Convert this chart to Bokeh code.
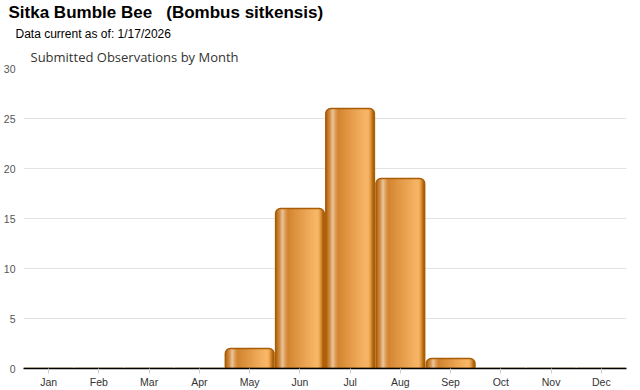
import math
from bokeh.plotting import figure
from bokeh.models import ColumnDataSource, Title, Range1d, FactorRange, SingleIntervalTicker
from bokeh.transform import dodge
from bokeh.embed import file_html
from bokeh.resources import INLINE

# ---- data ----
months = ["Jan", "Feb", "Mar", "Apr", "May", "Jun", "Jul", "Aug", "Sep", "Oct", "Nov", "Dec"]
counts = [0, 0, 0, 0, 2, 16, 26, 19, 1, 0, 0, 0]
title_text = "Sitka Bumble Bee\u00a0\u00a0\u00a0(Bombus sitkensis)"
subtitle_text = "Data current as of: 1/17/2026"
chart_title = "Submitted Observations by Month"
y_max = 30

# ---- figure ----
W, H = 630, 390
p = figure(x_range=FactorRange(*months), y_range=Range1d(0, y_max),
           width=W, height=H, output_backend="svg", toolbar_location=None,
           min_border_left=14, min_border_right=4, min_border_top=0, min_border_bottom=0)
p.outline_line_color = None
p.background_fill_color = "white"
p.border_fill_color = "white"

# gradient for bar fill (horizontal, left -> right)
stops = [(0.00, (166, 90, 6)), (0.04, (192, 112, 26)), (0.10, (212, 149, 85)),
         (0.15, (236, 201, 160)), (0.20, (224, 160, 96)), (0.26, (211, 133, 47)),
         (0.50, (227, 154, 72)), (0.80, (246, 180, 100)), (0.88, (248, 184, 104)),
         (0.93, (224, 150, 64)), (0.97, (185, 106, 14)), (1.00, (166, 90, 6))]

def grad(t):
    for (t0, c0), (t1, c1) in zip(stops[:-1], stops[1:]):
        if t0 <= t <= t1:
            f = (t - t0) / (t1 - t0) if t1 > t0 else 0
            return "#%02x%02x%02x" % tuple(int(round(a + (b - a) * f)) for a, b in zip(c0, c1))
    return "#a65a06"

bar_w = 0.97
radius_px = 5
src = ColumnDataSource(dict(month=months, count=counts))

# base rounded bar
p.vbar(x="month", top="count", width=bar_w, source=src, fill_color="#b8690f",
       line_color=None, border_radius=(radius_px, radius_px, 0, 0))

# gradient strips
band_px = 614 / len(months)
bar_px = bar_w * band_px
px_per_unit = 299 / y_max
N = 48
sw = bar_w / N
for i in range(N):
    t = (i + 0.5) / N
    off = -bar_w / 2 + t * bar_w
    d = min(t, 1 - t) * bar_px
    drop = 0.0
    if d < radius_px:
        drop = radius_px - math.sqrt(max(0.0, radius_px ** 2 - (radius_px - d) ** 2))
    tops = [max(0.0, c - (drop + 0.6) / px_per_unit) if c > 0 else 0 for c in counts]
    s = ColumnDataSource(dict(month=months, top=tops))
    p.vbar(x=dodge("month", off, range=p.x_range), top="top", width=sw * 1.6, source=s,
           fill_color=grad(t), line_color=None)

# outline
p.vbar(x="month", top="count", width=bar_w, source=src, fill_alpha=0,
       line_color="#a85c06", line_width=1.3, border_radius=(radius_px, radius_px, 0, 0))

# axes
p.xaxis.axis_line_color = "black"
p.xaxis.axis_line_width = 1.5
p.xaxis.major_tick_line_color = "#cccccc"
p.xaxis.major_tick_out = 5
p.xaxis.major_tick_in = 0
p.xaxis.major_label_standoff = 2
p.xaxis.major_label_text_font = "Liberation Sans"
p.xaxis.major_label_text_font_size = "10.5px"
p.xaxis.major_label_text_color = "#333333"

p.yaxis.axis_line_color = None
p.yaxis.major_tick_line_color = None
p.yaxis.minor_tick_line_color = None
p.yaxis.major_tick_out = 0
p.yaxis.major_tick_in = 0
p.yaxis.major_label_standoff = 4
p.yaxis.ticker = SingleIntervalTicker(interval=5)
p.yaxis.major_label_text_font = "Liberation Sans"
p.yaxis.major_label_text_font_size = "10.5px"
p.yaxis.major_label_text_color = "#555555"

p.xgrid.grid_line_color = None
p.ygrid.grid_line_color = "#e3e3e3"
p.ygrid.ticker = SingleIntervalTicker(interval=5)

# titles: first added is nearest to the frame
p.add_layout(Title(text=chart_title, align="left", offset=7, standoff=5,
                   text_font="Open Sans", text_font_style="normal", text_font_size="13px",
                   text_color="#333333"), "above")
p.add_layout(Title(text=subtitle_text, align="left", offset=-8, standoff=6,
                   text_font="Liberation Sans", text_font_style="normal", text_font_size="12px",
                   text_color="black"), "above")
p.add_layout(Title(text=title_text, align="left", offset=-15, standoff=0,
                   text_font="Liberation Sans", text_font_style="bold", text_font_size="17px",
                   text_color="black"), "above")

open("out.html", "w").write(file_html(p, INLINE))
